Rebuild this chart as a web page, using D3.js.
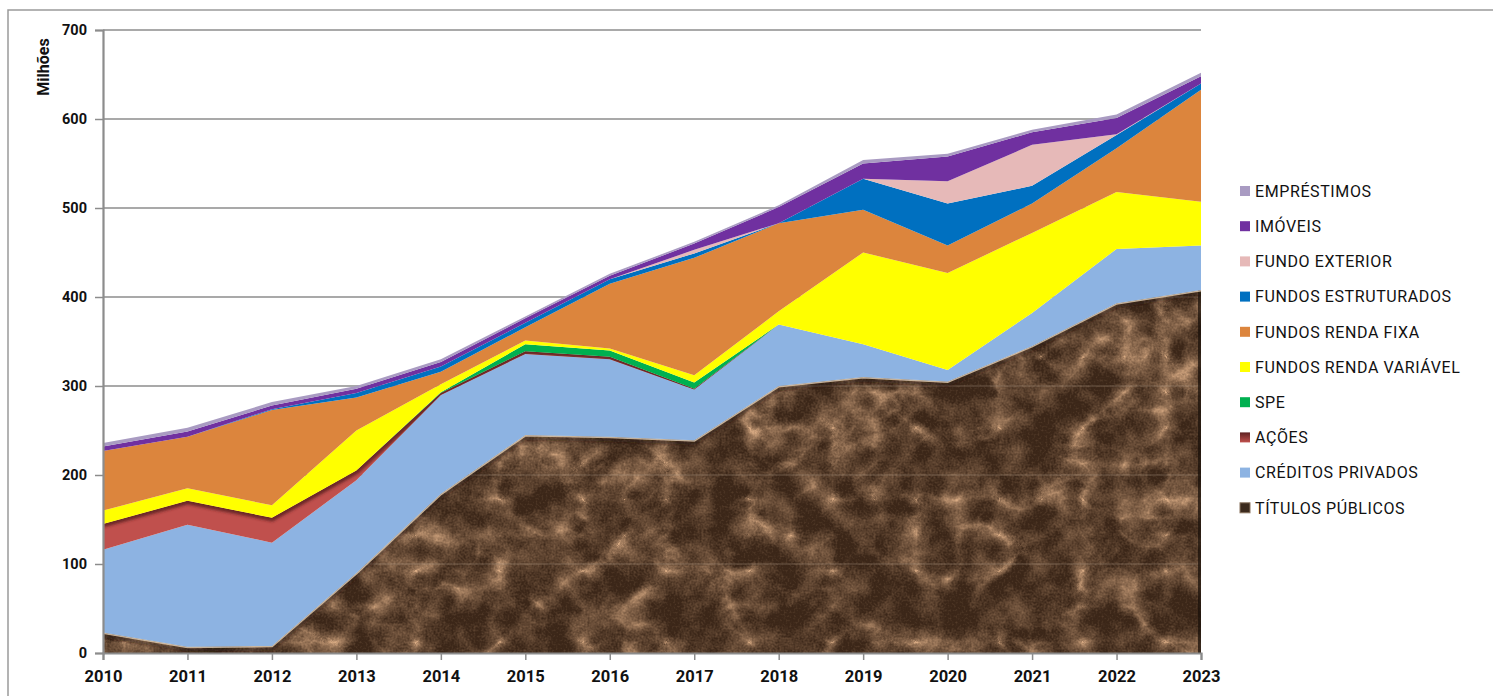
<!DOCTYPE html>
<html lang="pt">
<head>
<meta charset="utf-8">
<script src="https://cdn.jsdelivr.net/npm/d3@7/dist/d3.min.js"></script>
<style>
  html, body { margin: 0; padding: 0; background: #ffffff; }
  svg { display: block; }
  .tick-y { font: 700 14.5px Roboto, "Liberation Sans", sans-serif; fill: #111; }
  .tick-x { font: 700 16.5px Roboto, "Liberation Sans", sans-serif; fill: #111; }
  .legend-text { font: 400 16px Roboto, "Liberation Sans", sans-serif; fill: #111; letter-spacing: 0.6px; }
</style>
</head>
<body>
<svg id="chart" width="1493" height="696"></svg>
<script>
// Carteira de investimentos por segmento (R$ milhões)
const years = [2010, 2011, 2012, 2013, 2014, 2015, 2016, 2017, 2018, 2019, 2020, 2021, 2022, 2023];
const titulosPublicos     = [23, 7, 8, 90, 179, 245, 243, 239, 300, 310, 305, 345, 393, 408];
const creditosPrivados    = [93, 137, 116, 104, 111, 91, 87, 57, 69, 37, 13, 37, 61, 50];
const acoes               = [29, 27, 28, 11, 2, 3, 3, 1, 0, 0, 0, 0, 0, 0];
const spe                 = [0, 0, 0, 0, 1, 8, 7, 7, 0, 0, 0, 0, 0, 0];
const fundosRendaVariavel = [15, 14, 14, 45, 9, 4, 2, 8, 15, 103, 109, 90, 64, 49];
const fundosRendaFixa     = [67, 58, 107, 37, 14, 15, 73, 132, 99, 48, 31, 33, 49, 126];
const fundosEstruturados  = [0, 0, 1, 5, 6, 5, 5, 5, 0, 35, 47, 20, 15, 7];
const fundoExterior       = [0, 0, 0, 0, 0, 0, 0, 4, 0, 0, 25, 46, 1, 0];
const imoveis             = [5, 6, 4, 5, 5, 5, 4, 7, 18, 17, 28, 14, 18, 8];
const emprestimos         = [4, 4, 4, 3, 3, 2, 2, 2, 2, 4, 3, 3, 4, 4];
const yTicks = [0, 100, 200, 300, 400, 500, 600, 700];

// series listed bottom-up in stacking order
const seriesNames = ["TÍTULOS PÚBLICOS", "CRÉDITOS PRIVADOS", "AÇÕES", "SPE", "FUNDOS RENDA VARIÁVEL",
  "FUNDOS RENDA FIXA", "FUNDOS ESTRUTURADOS", "FUNDO EXTERIOR", "IMÓVEIS", "EMPRÉSTIMOS"];
const seriesValues = [titulosPublicos, creditosPrivados, acoes, spe, fundosRendaVariavel,
  fundosRendaFixa, fundosEstruturados, fundoExterior, imoveis, emprestimos];
const seriesColors = ["#3d2b1f", "#8db3e2", "#c0504d", "#00b050", "#ffff00",
  "#dc853d", "#0070c0", "#e6b9b8", "#7030a0", "#a99bc2"];

const table = years.map((y, i) => {
  const row = { year: y };
  seriesNames.forEach((n, k) => { row[n] = seriesValues[k][i]; });
  return row;
});

const svg = d3.select("#chart");
const plot = { left: 103, right: 1201, top: 30, bottom: 653 };

const x = d3.scaleLinear().domain([years[0], years[years.length - 1]]).range([plot.left, plot.right]);
const y = d3.scaleLinear().domain([0, 700]).range([plot.bottom, plot.top]);

const stacked = d3.stack().keys(seriesNames)(table);

const defs = svg.append("defs");

// marble texture for the public bonds layer
const filt = defs.append("filter").attr("id", "marbleFilter")
  .attr("filterUnits", "userSpaceOnUse")
  .attr("color-interpolation-filters", "sRGB")
  .attr("x", plot.left).attr("y", plot.top)
  .attr("width", plot.right - plot.left).attr("height", plot.bottom - plot.top);
// thin veins: near-zero regions of the turbulence become light
filt.append("feTurbulence").attr("type", "turbulence").attr("baseFrequency", "0.012 0.014")
  .attr("numOctaves", 5).attr("seed", 11).attr("result", "veinsRaw");
filt.append("feColorMatrix").attr("in", "veinsRaw").attr("type", "matrix")
  .attr("values", "-1.5 0 0 0 1  -1.5 0 0 0 1  -1.5 0 0 0 1  0 0 0 0 1").attr("result", "veinsInv");
const vg = filt.append("feComponentTransfer").attr("in", "veinsInv").attr("result", "veins");
["feFuncR", "feFuncG", "feFuncB"].forEach(f => vg.append(f).attr("type", "gamma")
  .attr("amplitude", 1).attr("exponent", 3.2).attr("offset", 0));
// coarse mottling
filt.append("feTurbulence").attr("type", "fractalNoise").attr("baseFrequency", "0.035")
  .attr("numOctaves", 3).attr("seed", 5).attr("result", "mottleRaw");
filt.append("feColorMatrix").attr("in", "mottleRaw").attr("type", "matrix")
  .attr("values", "1 0 0 0 0  1 0 0 0 0  1 0 0 0 0  0 0 0 0 1").attr("result", "mottle");
// fine grain
filt.append("feTurbulence").attr("type", "fractalNoise").attr("baseFrequency", "0.5")
  .attr("numOctaves", 2).attr("seed", 3).attr("result", "grainRaw");
filt.append("feColorMatrix").attr("in", "grainRaw").attr("type", "matrix")
  .attr("values", "1 0 0 0 0  1 0 0 0 0  1 0 0 0 0  0 0 0 0 1").attr("result", "grain");
// blend the three into one intensity map
filt.append("feComposite").attr("in", "veins").attr("in2", "mottle").attr("operator", "arithmetic")
  .attr("k1", 0).attr("k2", 0.8).attr("k3", 0.75).attr("k4", -0.3).attr("result", "mix1");
filt.append("feComposite").attr("in", "mix1").attr("in2", "grain").attr("operator", "arithmetic")
  .attr("k1", 0).attr("k2", 1).attr("k3", 0.4).attr("k4", -0.19).attr("result", "mix2");
// map intensity onto brown tones
filt.append("feColorMatrix").attr("in", "mix2").attr("type", "matrix")
  .attr("values", "0.62 0 0 0 0.23  0.52 0 0 0 0.15  0.42 0 0 0 0.095  0 0 0 0 1");

const soft = defs.append("filter").attr("id", "soft").attr("x", "-5%").attr("y", "-50%").attr("width", "110%").attr("height", "200%");
soft.append("feGaussianBlur").attr("stdDeviation", 1.4);

const acoesGrad = defs.append("linearGradient").attr("id", "acoesSwatch").attr("x1", 0).attr("y1", 0).attr("x2", 0).attr("y2", 1);
acoesGrad.append("stop").attr("offset", "0%").attr("stop-color", "#5e2121");
acoesGrad.append("stop").attr("offset", "100%").attr("stop-color", "#c0504d");

// outer frame
svg.append("path").attr("d", "M8,700 L8,10 L1500,10")
  .attr("fill", "none").attr("stroke", "#9a9a9a").attr("stroke-width", 1.5);

// horizontal gridlines
svg.append("g").selectAll("line").data(yTicks.filter(d => d > 0)).join("line")
  .attr("x1", plot.left).attr("x2", plot.right)
  .attr("y1", d => y(d)).attr("y2", d => y(d))
  .attr("stroke", "#8c8c8c").attr("stroke-width", 1.5);

const area = d3.area().x(d => x(d.data.year)).y0(d => y(d[0])).y1(d => y(d[1]));
const topLine = d3.line().x(d => x(d.data.year)).y(d => y(d[1]));

// bottom layer with texture, clipped to its area
const baseLayer = stacked[0];
defs.append("clipPath").attr("id", "baseClip").append("path").attr("d", area(baseLayer));
const baseG = svg.append("g").attr("clip-path", "url(#baseClip)");
baseG.append("rect").attr("x", plot.left).attr("y", plot.top)
  .attr("width", plot.right - plot.left).attr("height", plot.bottom - plot.top)
  .attr("fill", seriesColors[0]).attr("filter", "url(#marbleFilter)");
// faint gridlines showing through the texture
baseG.selectAll("line.gl").data(yTicks.filter(d => d > 0)).join("line")
  .attr("x1", plot.left).attr("x2", plot.right)
  .attr("y1", d => y(d)).attr("y2", d => y(d))
  .attr("stroke", "#b9a891").attr("stroke-opacity", 0.4).attr("stroke-width", 1);
// bevel: dark right edge
baseG.append("line").attr("x1", plot.right - 1.5).attr("x2", plot.right - 1.5)
  .attr("y1", plot.top).attr("y2", plot.bottom)
  .attr("stroke", "#1b120b").attr("stroke-width", 3).attr("stroke-opacity", 0.75);
// bevel: darker inner band under the top edge
baseG.append("path").attr("d", topLine(baseLayer)).attr("transform", "translate(0,3.5)")
  .attr("fill", "none").attr("stroke", "#24170e").attr("stroke-width", 3).attr("stroke-opacity", 0.55)
  .attr("filter", "url(#soft)");
// bevel: light top edge
baseG.append("path").attr("d", topLine(baseLayer))
  .attr("fill", "none").attr("stroke", "#d9c8b0").attr("stroke-width", 3).attr("stroke-opacity", 0.85);

// remaining stacked layers
stacked.slice(1).forEach((layer, i) => {
  const k = i + 1;
  svg.append("path").attr("d", area(layer)).attr("fill", seriesColors[k]);
  if (seriesNames[k] === "AÇÕES") {
    // shaded upper edge of the equities band
    const cid = "acoesClip";
    defs.append("clipPath").attr("id", cid).append("path").attr("d", area(layer));
    svg.append("path").attr("d", topLine(layer)).attr("clip-path", `url(#${cid})`)
      .attr("fill", "none").attr("stroke", "#5a1e1e").attr("stroke-width", 7)
      .attr("stroke-opacity", 0.85).attr("filter", "url(#soft)");
  }
});

// axes
const axisColor = "#8c8c8c";
const gy = svg.append("g").attr("transform", `translate(${plot.left},0)`)
  .call(d3.axisLeft(y).tickValues(yTicks).tickSize(8).tickPadding(8).tickFormat(d3.format("d")));
gy.select(".domain").attr("stroke", axisColor).attr("stroke-width", 2.2);
gy.selectAll(".tick line").attr("stroke", axisColor).attr("stroke-width", 1.5);
gy.selectAll(".tick text").attr("class", "tick-y").attr("font-family", null).attr("font-size", null);

const gx = svg.append("g").attr("transform", `translate(0,${plot.bottom})`)
  .call(d3.axisBottom(x).tickValues(years).tickSize(7).tickPadding(10).tickFormat(d3.format("d")));
gx.select(".domain").attr("stroke", axisColor).attr("stroke-width", 2.2);
gx.selectAll(".tick line").attr("stroke", axisColor).attr("stroke-width", 1.5);
gx.selectAll(".tick text").attr("class", "tick-x").attr("font-family", null).attr("font-size", null);

// y-axis title
svg.append("text").attr("transform", "translate(49,67) rotate(-90)")
  .attr("text-anchor", "middle")
  .style("font", "700 16px Roboto, 'Liberation Sans', sans-serif").style("fill", "#111")
  .text("Milhões");

// legend, top entry = top layer
const legendOrder = seriesNames.map((n, k) => k).reverse();
const lg = svg.append("g").attr("transform", "translate(1240,191)");
legendOrder.forEach((k, row) => {
  const gRow = lg.append("g").attr("transform", `translate(0,${row * 35.2})`);
  let fill = seriesColors[k];
  if (seriesNames[k] === "AÇÕES") fill = "url(#acoesSwatch)";
  if (k === 0) fill = "#3b2a1d";
  gRow.append("rect").attr("x", 0).attr("y", -5).attr("width", 10).attr("height", 10)
    .attr("fill", fill)
    .attr("stroke", k === 0 ? "#8a7560" : "none").attr("stroke-width", 1);
  gRow.append("text").attr("class", "legend-text").attr("x", 15).attr("y", 0)
    .attr("dy", "0.36em").text(seriesNames[k]);
});
</script>
</body>
</html>
